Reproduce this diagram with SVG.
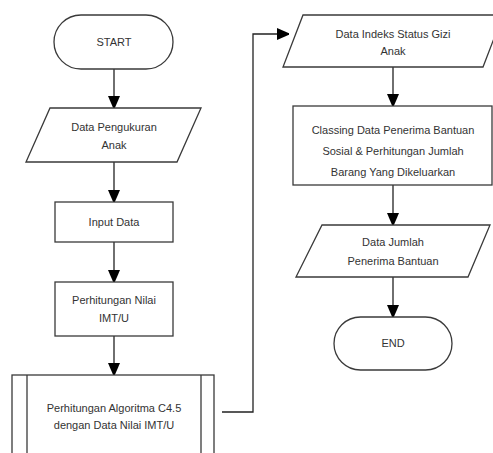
<svg xmlns="http://www.w3.org/2000/svg" width="493" height="453" viewBox="0 0 493 453">
<style>
.s{fill:#fff;stroke:#3a3a3a;stroke-width:1.3}
.t{font-family:"Liberation Sans",Arial,sans-serif;font-size:11px;fill:#333;text-anchor:middle}
.c{fill:none;stroke:#222;stroke-width:1.3}
</style>
<defs>
<marker id="ah" markerUnits="userSpaceOnUse" markerWidth="12" markerHeight="16" viewBox="0 0 12 16" refX="12" refY="6" orient="auto">
<path d="M0,0 L14,6 L0,12 Z" fill="#000"/>
</marker>
</defs>
<rect width="493" height="453" fill="#fff"/>
<g id="connectors">
<line class="c" x1="114" y1="69" x2="114" y2="108" marker-end="url(#ah)"/>
<line class="c" x1="114" y1="162" x2="114" y2="202" marker-end="url(#ah)"/>
<line class="c" x1="114" y1="242" x2="114" y2="282" marker-end="url(#ah)"/>
<line class="c" x1="114" y1="336" x2="114" y2="375" marker-end="url(#ah)"/>
<polyline class="c" points="222,412 253,412 253,34 289,34" marker-end="url(#ah)"/>
<line class="c" x1="393" y1="67" x2="393" y2="106" marker-end="url(#ah)"/>
<line class="c" x1="393" y1="185" x2="393" y2="225" marker-end="url(#ah)"/>
<line class="c" x1="393" y1="277" x2="393" y2="317" marker-end="url(#ah)"/>
</g>
<g id="start">
<rect class="s" x="54" y="15" width="119" height="54" rx="27"/>
<text class="t" x="114" y="46">START</text>
</g>
<g id="data-pengukuran">
<polygon class="s" points="50,108 201,108 177,162 26,162"/>
<text class="t" x="114" y="131">Data Pengukuran</text>
<text class="t" x="114" y="149">Anak</text>
</g>
<g id="input-data">
<rect class="s" x="55" y="202" width="118" height="40"/>
<text class="t" x="114" y="226">Input Data</text>
</g>
<g id="perhitungan-nilai">
<rect class="s" x="55" y="282" width="118" height="54"/>
<text class="t" x="114" y="304">Perhitungan Nilai</text>
<text class="t" x="114" y="322">IMT/U</text>
</g>
<g id="algoritma">
<rect class="s" x="12" y="375" width="202" height="90"/>
<line class="s" x1="27" y1="375" x2="27" y2="465"/>
<line class="s" x1="201" y1="375" x2="201" y2="465"/>
<text class="t" x="114" y="412">Perhitungan Algoritma  C4.5</text>
<text class="t" x="114" y="429">dengan Data Nilai IMT/U</text>
</g>
<g id="data-indeks">
<polygon class="s" points="303,15 503,15 483,67 283,67"/>
<text class="t" x="393" y="38">Data Indeks Status Gizi</text>
<text class="t" x="393" y="55">Anak</text>
</g>
<g id="classing">
<rect class="s" x="293" y="106" width="199" height="79"/>
<text class="t" x="393" y="134">Classing Data Penerima Bantuan</text>
<text class="t" x="393" y="155">Sosial &amp; Perhitungan Jumlah</text>
<text class="t" x="393" y="176">Barang Yang Dikeluarkan</text>
</g>
<g id="data-jumlah">
<polygon class="s" points="322,225 490,225 468,277 296,277"/>
<text class="t" x="393" y="246">Data Jumlah</text>
<text class="t" x="393" y="265">Penerima Bantuan</text>
</g>
<g id="end">
<rect class="s" x="334" y="317" width="118" height="53" rx="26.5"/>
<text class="t" x="393" y="347">END</text>
</g>
</svg>
